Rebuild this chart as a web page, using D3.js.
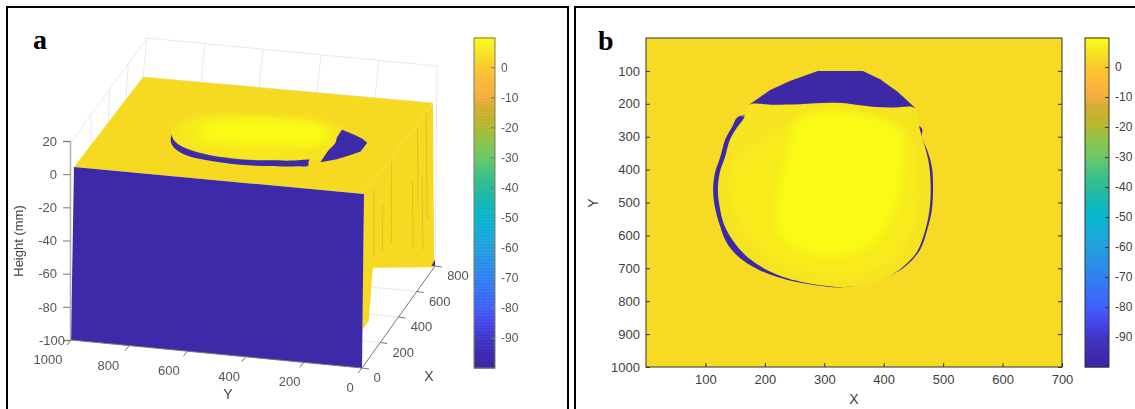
<!DOCTYPE html>
<html>
<head>
<meta charset="utf-8">
<script src="https://cdn.jsdelivr.net/npm/d3@7"></script>
<style>
  html, body { margin: 0; padding: 0; background: #fff; }
  svg { display: block; }
  text { font-family: "Liberation Sans", Arial, sans-serif; }
  .panel-letter { font-family: "Liberation Serif", serif; font-weight: bold; font-size: 28px; fill: #000; }
</style>
</head>
<body>
<div id="chart"></div>
<script>
// height colour map
const colorValues = [9.7, 5, 3, 0, -5, -10, -13, -17, -20, -25, -30, -35, -40, -45, -50, -55, -60, -65, -70, -75, -80, -85, -90, -95, -100];
const colorStops = ['#f9fb15', '#f6e522', '#f6da24', '#fbc92d', '#fbb838', '#f5ad3f', '#d5ad33', '#c3b22b', '#b0ba32', '#8ac34e', '#6cc864', '#45c183', '#2dbb98', '#14b8b5', '#06b6cf', '#16abd9', '#21a0dd', '#2a90e6', '#2e82f0', '#386ff8', '#4060fa', '#4647ec', '#4237ca', '#3f2cb0', '#3b27a3'];

const colorbarTicks = [0, -10, -20, -30, -40, -50, -60, -70, -80, -90];
const xTicksB = [100, 200, 300, 400, 500, 600, 700];
const yTicksB = [100, 200, 300, 400, 500, 600, 700, 800, 900, 1000];
const xTicksA = [0, 200, 400, 600, 800];
const yTicksA = [0, 200, 400, 600, 800, 1000];
const zTicksA = [-100, -80, -60, -40, -20, 0, 20];

// levels, mm
const groundHeight = 3;
const holeHeight = -98;
const discHeights = [4.6, 6.3, 9.5];

// outlines in [X, Y]
const capOutline = [[173, 204], [209, 158], [242, 131], [289, 100], [365, 100], [394, 125], [424, 164], [453, 213]];
const rimOutline = [[335, 757], [288, 752], [254, 742], [220, 726], [187, 702], [158, 669], [136, 623], [125, 574], [116, 514], [113, 462], [116, 410], [125, 362], [133, 310], [145, 270], [155, 240], [192, 249], [427, 249], [464, 274], [464, 301], [473, 340], [481, 392], [483, 441], [481, 523], [473, 584], [461, 644], [439, 690], [416, 717]];
const discOutline = [[173, 204], [216, 203], [259, 201], [321, 197], [377, 208], [415, 212], [453, 214], [461, 280], [475, 371], [479, 447], [477, 523], [469, 590], [456, 650], [436, 690], [416, 717], [377, 745], [335, 757], [288, 750], [254, 738], [222, 720], [192, 693], [166, 658], [146, 615], [131, 565], [124, 514], [121, 462], [124, 410], [133, 362], [141, 310], [152, 275], [165, 243]];
const discMidOutline = [[192, 310], [259, 249], [360, 234], [444, 295], [458, 401], [458, 538], [436, 629], [394, 699], [326, 726], [242, 699], [183, 629], [150, 538], [138, 432], [158, 353]];
const discCoreOutline = [[259, 240], [343, 225], [427, 280], [432, 371], [427, 477], [411, 553], [377, 629], [326, 660], [259, 644], [225, 599], [220, 508], [225, 447], [237, 350]];
const rimFragments = [[[155, 240], [187, 228]], [[133, 310], [155, 286]], [[377, 210], [453, 216]]];

// panel a, [X, Y, height]
const sideWallOutline = [[0, 0, 0], [800, 0, 0], [790, 0, -100], [110, 0, -50], [70, 0, -78], [0, 0, -78]];
const wallStreaks = [[720, 0, -65], [620, -3, -50], [320, -2, -50], [120, -5, -45], [670, -35, -80], [560, -30, -72], [220, -20, -48]];

const width = 1135;
const height = 409;

const svg = d3.select('#chart').append('svg')
  .attr('width', width)
  .attr('height', height);

const color = d3.scaleLinear().domain(colorValues).range(colorStops);

const defs = svg.append('defs');
defs.append('filter').attr('id', 'soft').append('feGaussianBlur').attr('stdDeviation', 4);
defs.append('filter').attr('id', 'photo')
  .attr('filterUnits', 'userSpaceOnUse')
  .attr('x', 8).attr('y', 8).attr('width', 558).attr('height', 401)
  .append('feGaussianBlur').attr('stdDeviation', 0.35);

drawFrames();
drawPanelA();
drawPanelB();

function drawFrames() {
  svg.append('path')
    .attr('d', 'M7,409V7H568V409')
    .attr('fill', 'none').attr('stroke', '#000').attr('stroke-width', 2);
  svg.append('path')
    .attr('d', 'M575,409V7H1135')
    .attr('fill', 'none').attr('stroke', '#000').attr('stroke-width', 2);
  svg.append('text').attr('class', 'panel-letter').attr('x', 33).attr('y', 49).text('a');
  svg.append('text').attr('class', 'panel-letter').attr('x', 598).attr('y', 50).text('b');
}

function drawColorbar(parent, left, barWidth, top, bottom, lineColor, textColor, fontSize) {
  const scale = d3.scaleLinear().domain([-100, 9.7]).range([bottom, top]);
  const g = parent.append('g');
  const steps = d3.range(-100, 9.7, 0.5);

  g.selectAll('rect')
    .data(steps)
    .join('rect')
    .attr('x', left)
    .attr('width', barWidth)
    .attr('y', d => scale(d + 0.5))
    .attr('height', d => scale(d) - scale(d + 0.5) + 0.5)
    .attr('fill', d => color(d));

  g.append('rect')
    .attr('x', left).attr('y', top)
    .attr('width', barWidth).attr('height', bottom - top)
    .attr('fill', 'none').attr('stroke', lineColor);

  const axis = g.append('g')
    .attr('transform', `translate(${left + barWidth}, 0)`)
    .call(d3.axisRight(scale).tickValues(colorbarTicks).tickFormat(d => d).tickSize(-4).tickPadding(6));
  axis.select('.domain').remove();
  axis.selectAll('line').attr('stroke', lineColor);
  axis.selectAll('text').attr('fill', textColor).attr('font-size', fontSize)
    .attr('font-family', '"Liberation Sans", Arial, sans-serif');
}

function drawPanelA() {
  // box corners on screen at three height levels
  const levels = [
    { z: -100, fl: [71, 340], fr: [362, 368], br: [435, 266], bl: [145, 238] },
    { z: 0, fl: [74, 167], fr: [364, 194], br: [433, 103], bl: [143, 77] },
    { z: 20, fl: [72, 141], fr: [368, 160], br: [437, 66], bl: [147, 38] },
  ];

  const onLevel = (level, X, Y) => {
    const u = X / 800;
    const t = 1 - Y / 1000;
    return [0, 1].map(i => {
      const front = level.fl[i] + (level.fr[i] - level.fl[i]) * t;
      const back = level.bl[i] + (level.br[i] - level.bl[i]) * t;
      return front + (back - front) * u;
    });
  };

  const project = ([X, Y, z]) => {
    const low = z < 0 ? levels[0] : levels[1];
    const high = z < 0 ? levels[1] : levels[2];
    const a = onLevel(low, X, Y);
    const b = onLevel(high, X, Y);
    const f = (z - low.z) / (high.z - low.z);
    return [a[0] + (b[0] - a[0]) * f, a[1] + (b[1] - a[1]) * f];
  };

  const g = svg.append('g').attr('filter', 'url(#photo)');
  const line3d = d3.line().x(d => project(d)[0]).y(d => project(d)[1]);
  const smooth = d3.line().x(d => project(d)[0]).y(d => project(d)[1]).curve(d3.curveCatmullRomClosed);
  const at = (outline, z) => outline.map(d => [d[0], d[1], z]);

  // grid on the back walls and the floor
  const grid = g.append('g').attr('fill', 'none').attr('stroke', '#e6e9ee').attr('stroke-width', 1);
  const gridLines = [
    [[800, 1000, 20], [800, 0, 20], [800, 0, -100]],
    [[0, 1000, 20], [800, 1000, 20], [800, 1000, 0]],
    [[800, 1000, 0], [800, 0, 0]],
  ];
  yTicksA.filter(d => d > 0 && d < 1000).forEach(d => gridLines.push([[800, d, 20], [800, d, 0]]));
  xTicksA.filter(d => d > 0 && d < 800).forEach(d => {
    gridLines.push([[d, 1000, 20], [d, 1000, 0]]);
    gridLines.push([[d, 0, -100], [d, 700, -100]]);
  });
  grid.selectAll('path').data(gridLines).join('path').attr('d', line3d);

  // yellow side wall with its streaks
  g.append('path')
    .attr('d', line3d(sideWallOutline) + 'Z')
    .attr('fill', color(groundHeight));
  g.selectAll('.streak')
    .data(wallStreaks)
    .join('path')
    .attr('class', 'streak')
    .attr('d', d => line3d([[d[0], 0, d[1]], [d[0], 0, d[2]]]))
    .attr('stroke', '#bda92c').attr('stroke-width', 1).attr('stroke-opacity', 0.5);

  // top surface
  g.append('path')
    .attr('d', line3d([[0, 1000, 0], [0, 0, 0], [800, 0, 0], [800, 1000, 0]]) + 'Z')
    .attr('fill', color(groundHeight));

  // corner of the hollow showing at the far end of the floor
  g.append('path')
    .attr('d', line3d([[800, 0, -100], [800, 12, -100], [800, 0, -96]]) + 'Z')
    .attr('fill', color(holeHeight));

  // hollow and disc
  g.append('path')
    .attr('d', line3d(at(capOutline, 4)) + 'Z')
    .attr('fill', color(holeHeight));
  g.append('path')
    .attr('d', smooth(at(rimOutline, 2.5)))
    .attr('fill', color(holeHeight));
  g.append('path')
    .attr('d', smooth(at(discOutline, 5.5)))
    .attr('fill', color(discHeights[0]));
  g.append('path')
    .attr('d', smooth(at(discMidOutline, 7)))
    .attr('fill', color(discHeights[1])).attr('filter', 'url(#soft)');
  g.append('path')
    .attr('d', smooth(at(discCoreOutline, 8)))
    .attr('fill', color(discHeights[2])).attr('filter', 'url(#soft)');

  // front wall
  g.append('path')
    .attr('d', line3d([[0, 1000, 0], [0, 0, 0], [0, 0, -100], [0, 1000, -100]]) + 'Z')
    .attr('fill', color(holeHeight));

  // axes
  const zScale = d3.scaleLinear().domain([-100, 20]).range([340, 141]);
  const zAxis = g.append('g')
    .attr('transform', 'translate(70, 0)')
    .call(d3.axisLeft(zScale).tickValues(zTicksA).tickFormat(d => d).tickSizeOuter(0).tickSize(7).tickPadding(6));
  zAxis.select('.domain').attr('stroke', '#b0b0b0').attr('stroke-width', 1.5);
  zAxis.selectAll('line').attr('stroke', '#777');
  zAxis.selectAll('text')
    .attr('fill', '#555').attr('font-size', 13)
    .attr('font-family', '"Liberation Sans", Arial, sans-serif')
    .attr('dx', d => (d === -100 ? 8 : 0));

  g.append('path')
    .attr('d', line3d([[0, 1000, -100], [0, 0, -100], [800, 0, -100]]))
    .attr('fill', 'none').attr('stroke', '#777').attr('stroke-width', 1);

  g.selectAll('.y-tick')
    .data(yTicksA)
    .join('path')
    .attr('class', 'y-tick')
    .attr('d', d => {
      const p = project([0, d, -100]);
      return `M${p[0]},${p[1]}l-4,5`;
    })
    .attr('stroke', '#777');

  g.selectAll('.x-tick')
    .data(xTicksA)
    .join('path')
    .attr('class', 'x-tick')
    .attr('d', d => {
      const p = project([d, 0, -100]);
      return `M${p[0]},${p[1]}l7,1`;
    })
    .attr('stroke', '#777');

  g.selectAll('.y-label')
    .data(yTicksA)
    .join('text')
    .attr('class', 'y-label')
    .attr('x', d => project([0, d, -100])[0] - 12 - 11 * d / 1000)
    .attr('y', d => project([0, d, -100])[1] + 24)
    .attr('text-anchor', 'middle')
    .attr('font-size', 13).attr('fill', '#555')
    .text(d => d);

  g.selectAll('.x-label')
    .data(xTicksA)
    .join('text')
    .attr('class', 'x-label')
    .attr('x', d => project([d, 0, -100])[0] + (d === 0 ? 15 : 23))
    .attr('y', d => project([d, 0, -100])[1] + 14)
    .attr('text-anchor', 'middle')
    .attr('font-size', 13).attr('fill', '#555')
    .text(d => d);

  g.append('text').attr('x', 228).attr('y', 399).attr('text-anchor', 'middle')
    .attr('font-size', 14).attr('fill', '#444').text('Y');
  g.append('text').attr('x', 429).attr('y', 381).attr('text-anchor', 'middle')
    .attr('font-size', 14).attr('fill', '#444').text('X');
  g.append('text')
    .attr('transform', 'translate(23, 241) rotate(-90)')
    .attr('text-anchor', 'middle')
    .attr('font-size', 13).attr('fill', '#444').text('Height (mm)');

  drawColorbar(g, 474, 21, 38, 368, '#7d7d5a', '#555', 12);
}

function drawPanelB() {
  const x = d3.scaleLinear().domain([0, 700]).range([646, 1062]);
  const y = d3.scaleLinear().domain([0, 1000]).range([38, 367]);
  const g = svg.append('g');
  const outlinePath = d3.line().x(d => x(d[0])).y(d => y(d[1]));
  const smooth = d3.line().x(d => x(d[0])).y(d => y(d[1])).curve(d3.curveCatmullRomClosed);

  g.append('rect')
    .attr('x', x(0)).attr('y', y(0))
    .attr('width', x(700) - x(0)).attr('height', y(1000) - y(0))
    .attr('fill', color(groundHeight));

  g.append('path').attr('d', outlinePath(capOutline) + 'Z').attr('fill', color(holeHeight));
  g.append('path').attr('d', smooth(rimOutline)).attr('fill', color(holeHeight));
  g.selectAll('.fragment')
    .data(rimFragments)
    .join('path')
    .attr('class', 'fragment')
    .attr('d', outlinePath)
    .attr('fill', 'none').attr('stroke', color(holeHeight)).attr('stroke-width', 1.5).attr('stroke-opacity', 0.6);
  g.append('path').attr('d', smooth(discOutline)).attr('fill', color(discHeights[0]));
  g.append('path').attr('d', smooth(discMidOutline)).attr('fill', color(discHeights[1])).attr('filter', 'url(#soft)');
  g.append('path').attr('d', smooth(discCoreOutline)).attr('fill', color(discHeights[2])).attr('filter', 'url(#soft)');

  const style = axis => {
    axis.select('.domain').remove();
    axis.selectAll('line').attr('stroke', '#333');
    axis.selectAll('text').attr('fill', '#404040').attr('font-size', 13)
      .attr('font-family', '"Liberation Sans", Arial, sans-serif');
  };

  g.append('g')
    .attr('transform', `translate(0, ${y(1000)})`)
    .call(d3.axisBottom(x).tickValues(xTicksB).tickFormat(d => d).tickSize(-4).tickPadding(8))
    .call(style);
  g.append('g')
    .attr('transform', `translate(${x(0)}, 0)`)
    .call(d3.axisLeft(y).tickValues(yTicksB).tickFormat(d => d).tickSize(-4).tickPadding(6))
    .call(style);
  g.append('g')
    .attr('transform', `translate(${x(700)}, 0)`)
    .call(d3.axisRight(y).tickValues(yTicksB).tickSize(-4).tickFormat(''))
    .call(style);

  g.append('rect')
    .attr('x', x(0)).attr('y', y(0))
    .attr('width', x(700) - x(0)).attr('height', y(1000) - y(0))
    .attr('fill', 'none').attr('stroke', '#333');

  g.append('text').attr('x', 854).attr('y', 404).attr('text-anchor', 'middle')
    .attr('font-size', 14).attr('fill', '#404040').text('X');
  g.append('text')
    .attr('transform', 'translate(598, 203) rotate(-90)')
    .attr('text-anchor', 'middle')
    .attr('font-size', 14).attr('fill', '#404040').text('Y');

  drawColorbar(g, 1085, 24, 38, 367, '#333', '#404040', 12);
}
</script>
</body>
</html>
